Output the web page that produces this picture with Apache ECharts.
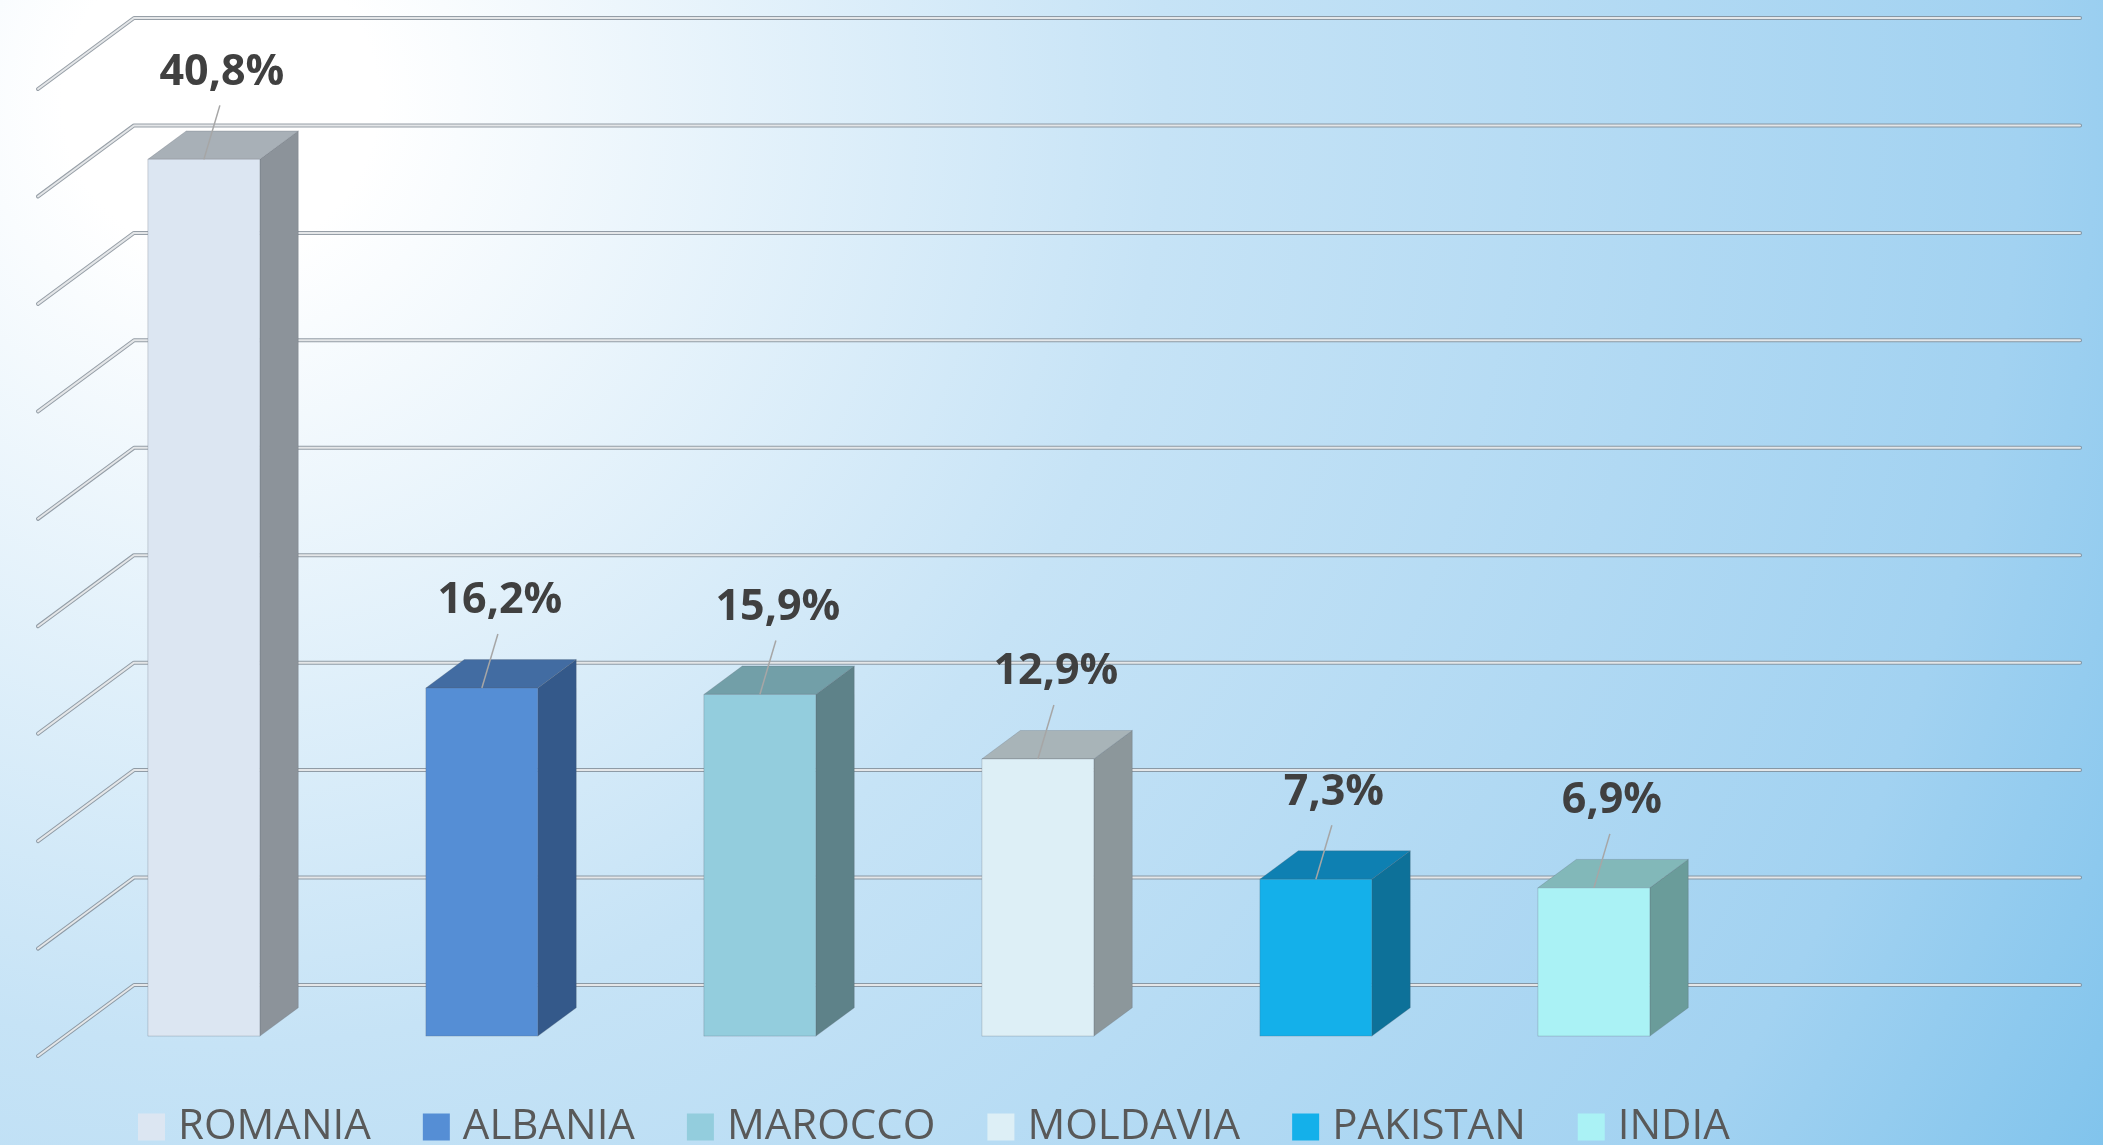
<!DOCTYPE html>
<html>
<head>
<meta charset="utf-8">
<script src="https://cdn.jsdelivr.net/npm/echarts@6/dist/echarts.min.js"></script>
<style>
html,body{margin:0;padding:0;background:#fff;}
#chart{width:2103px;height:1145px;}
</style>
</head>
<body>
<div id="chart"></div>
<script>
// ---- data ----
const countries = ['ROMANIA', 'ALBANIA', 'MAROCCO', 'MOLDAVIA', 'PAKISTAN', 'INDIA'];
const shares = [40.8, 16.2, 15.9, 12.9, 7.3, 6.9];
const valueTicks = [0, 5, 10, 15, 20, 25, 30, 35, 40, 45];

// ---- styles ----
const frontColors = ['#DCE6F2', '#558ED5', '#93CDDD', '#DDEFF6', '#14B0EA', '#AAF2F5'];
const topColors   = ['#A8B0B7', '#426CA2', '#729FA8', '#A8B4B8', '#0E80B2', '#82B8B9'];
const sideColors  = ['#8C939A', '#34598A', '#5E8289', '#8C979B', '#0D7199', '#6A9C9A'];

const DEPTH = [-96, 71];     // back wall -> front plane, px
const F_FRONT = 0.72, F_BACK = 0.32;
const BAR_W = 112;

function fmt(v) { return v.toFixed(1).replace('.', ',') + '%'; }

const chart = echarts.init(document.getElementById('chart'), null, { renderer: 'canvas' });

function wallRender(params, api) {
  const cs = params.coordSys;
  const y = api.coord([0, api.value(1)])[1];
  const pts = [[cs.x + DEPTH[0], y + DEPTH[1]], [cs.x, y], [cs.x + cs.width, y]];
  return {
    type: 'group',
    children: [
      { type: 'polyline', shape: { points: pts }, style: { stroke: 'rgba(125,135,145,0.8)', lineWidth: 4, fill: null, lineJoin: 'round', lineCap: 'round' } },
      { type: 'polyline', shape: { points: pts }, style: { stroke: '#E4E6E8', lineWidth: 2, fill: null, lineJoin: 'round', lineCap: 'round' } }
    ]
  };
}

function makeBarRender(i) {
  return function (params, api) {
    const idx = api.value(0), v = api.value(1);
    const base = api.coord([idx, 0]);
    const top = api.coord([idx, v]);
    const cx = base[0] + DEPTH[0] * F_FRONT;
    const x0 = cx - BAR_W / 2, x1 = cx + BAR_W / 2;
    const yb = base[1] + DEPTH[1] * F_FRONT;
    const yt = top[1] + DEPTH[1] * F_FRONT;
    const dx = DEPTH[0] * (F_BACK - F_FRONT), dy = DEPTH[1] * (F_BACK - F_FRONT);
    const edge = 'rgba(90,100,110,0.25)';
    return {
      type: 'group',
      children: [
        { type: 'polygon', shape: { points: [[x1, yt], [x1 + dx, yt + dy], [x1 + dx, yb + dy], [x1, yb]] },
          style: { fill: sideColors[i], stroke: edge, lineWidth: 1 } },
        { type: 'polygon', shape: { points: [[x0, yt], [x1, yt], [x1 + dx, yt + dy], [x0 + dx, yt + dy]] },
          style: { fill: topColors[i], stroke: edge, lineWidth: 1 } },
        { type: 'rect', shape: { x: x0, y: yt, width: BAR_W, height: yb - yt },
          style: { fill: frontColors[i], stroke: edge, lineWidth: 1 } },
        { type: 'line', shape: { x1: cx, y1: yt, x2: cx + 16, y2: yt - 54 },
          style: { stroke: '#A6A6A6', lineWidth: 1.5 } },
        { type: 'text', x: cx + 18, y: yt - 87,
          style: { text: fmt(v), fill: '#404040', font: 'bold 43px "Open Sans", sans-serif',
                   textAlign: 'center', textVerticalAlign: 'middle' } }
      ]
    };
  };
}

const series = [{
  type: 'custom',
  name: 'wall',
  renderItem: wallRender,
  data: valueTicks.map(t => [0, t]),
  encode: { x: 0, y: 1 },
  silent: true,
  z: 1
}];
countries.forEach((c, i) => {
  series.push({
    type: 'custom',
    name: c,
    renderItem: makeBarRender(i),
    data: [[i, shares[i]]],
    encode: { x: 0, y: 1 },
    itemStyle: { color: frontColors[i] },
    z: 2 + i
  });
});

chart.setOption({
  animation: false,
  backgroundColor: new echarts.graphic.RadialGradient(220, 100, 2250, [
    { offset: 0, color: '#FFFFFF' },
    { offset: 0.07, color: '#FFFFFF' },
    { offset: 0.42, color: '#C6E3F6' },
    { offset: 0.8, color: '#A2D2F1' },
    { offset: 1, color: '#78C0EB' }
  ], true),
  grid: { left: 134, right: 23, top: 18, bottom: 160 },
  xAxis: { type: 'category', data: countries, max: 6, show: false },
  yAxis: { type: 'value', min: 0, max: 45, interval: 5, show: false, splitLine: { show: false } },
  legend: {
    data: countries,
    left: 138, top: 1106, padding: 0,
    icon: 'rect', itemWidth: 27, itemHeight: 27, itemGap: 52,
    textStyle: { fontFamily: '"Open Sans", sans-serif', fontSize: 42, color: '#595959', lineHeight: 42, padding: [0, 0, 0, 8] }
  },
  series: series
});
</script>
</body>
</html>
